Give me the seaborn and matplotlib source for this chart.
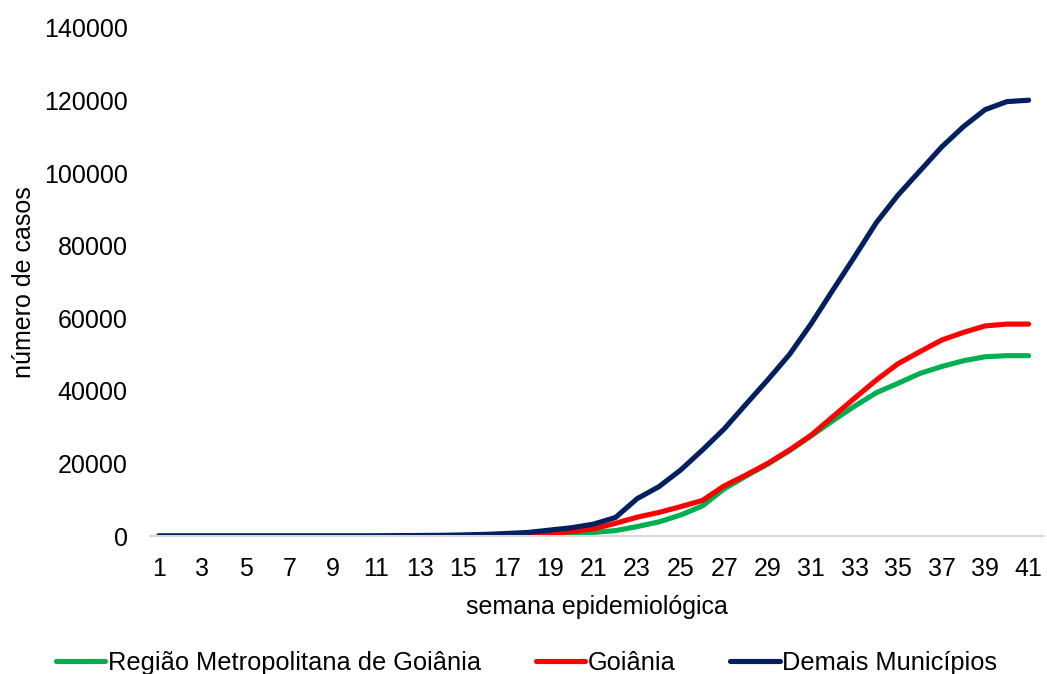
import pandas as pd
import seaborn as sns
import matplotlib.pyplot as plt
import numpy as np

# Weekly cumulative case counts
semanas = list(range(1, 42))

regiao_metropolitana = [0] * 11 + [20, 30, 40, 50, 80, 100, 150, 300, 600, 1000,
                                   1500, 2600, 3900, 5800, 8300, 13000, 16500, 19800, 23500, 27600,
                                   31800, 35800, 39500, 42100, 44800, 46700, 48300, 49400, 49700, 49700]
goiania = [0] * 11 + [50, 80, 100, 150, 200, 300, 450, 750, 1200, 2000,
                      3500, 5200, 6500, 8100, 9800, 13800, 16800, 20000, 23700, 27800,
                      32900, 38000, 43000, 47500, 50800, 54000, 56100, 57900, 58400, 58400]
demais = [0] * 11 + [100, 150, 200, 300, 450, 700, 1000, 1650, 2300, 3300,
                     5100, 10300, 13600, 18200, 23700, 29500, 36300, 43000, 50000, 58500,
                     67800, 77000, 86400, 94000, 100600, 107200, 112800, 117500, 119700, 120100]

series = ['Região Metropolitana de Goiânia', 'Goiânia', 'Demais Municípios']
cores = ['#00B050', '#FF0000', '#002060']

df = pd.DataFrame({
    'semana': semanas * 3,
    'casos': regiao_metropolitana + goiania + demais,
    'serie': [series[0]] * 41 + [series[1]] * 41 + [series[2]] * 41,
})

sns.set_style('white')
plt.rcParams['font.family'] = ['Liberation Sans', 'DejaVu Sans']
plt.rcParams['text.color'] = 'black'
plt.rcParams['axes.labelcolor'] = 'black'
plt.rcParams['xtick.color'] = 'black'
plt.rcParams['ytick.color'] = 'black'
fs = 18

fig, ax = plt.subplots(figsize=(10.47, 6.74), dpi=100)
fig.subplots_adjust(left=0.1433, right=0.997, top=0.9585, bottom=0.2047)

sns.lineplot(data=df, x='semana', y='casos', hue='serie', hue_order=series,
             palette=cores, linewidth=3.7, legend=False, ax=ax)

ax.set_xlim(0.6, 41.7)
ax.set_ylim(0, 140000)
ax.set_xticks(semanas[::2])
ax.set_yticks(np.arange(0, 140001, 20000))
ax.tick_params(axis='x', length=0, pad=15, labelsize=fs)
ax.tick_params(axis='y', length=0, pad=16, labelsize=fs)

for s in ['top', 'right', 'left']:
    ax.spines[s].set_visible(False)
ax.spines['bottom'].set_color('#D9D9D9')
ax.spines['bottom'].set_linewidth(1.5)
ax.grid(False)

ax.set_xlabel('semana epidemiológica', fontsize=fs, labelpad=10)
ax.set_ylabel('número de casos', fontsize=fs, labelpad=6)

ax.legend(ax.get_lines(), series, loc='center', bbox_to_anchor=(0.503, 0.016),
          bbox_transform=fig.transFigure, ncol=3, frameon=False, fontsize=18.3,
          handlelength=1.95, handletextpad=0.1, columnspacing=2.15)

fig.savefig('out.png')
